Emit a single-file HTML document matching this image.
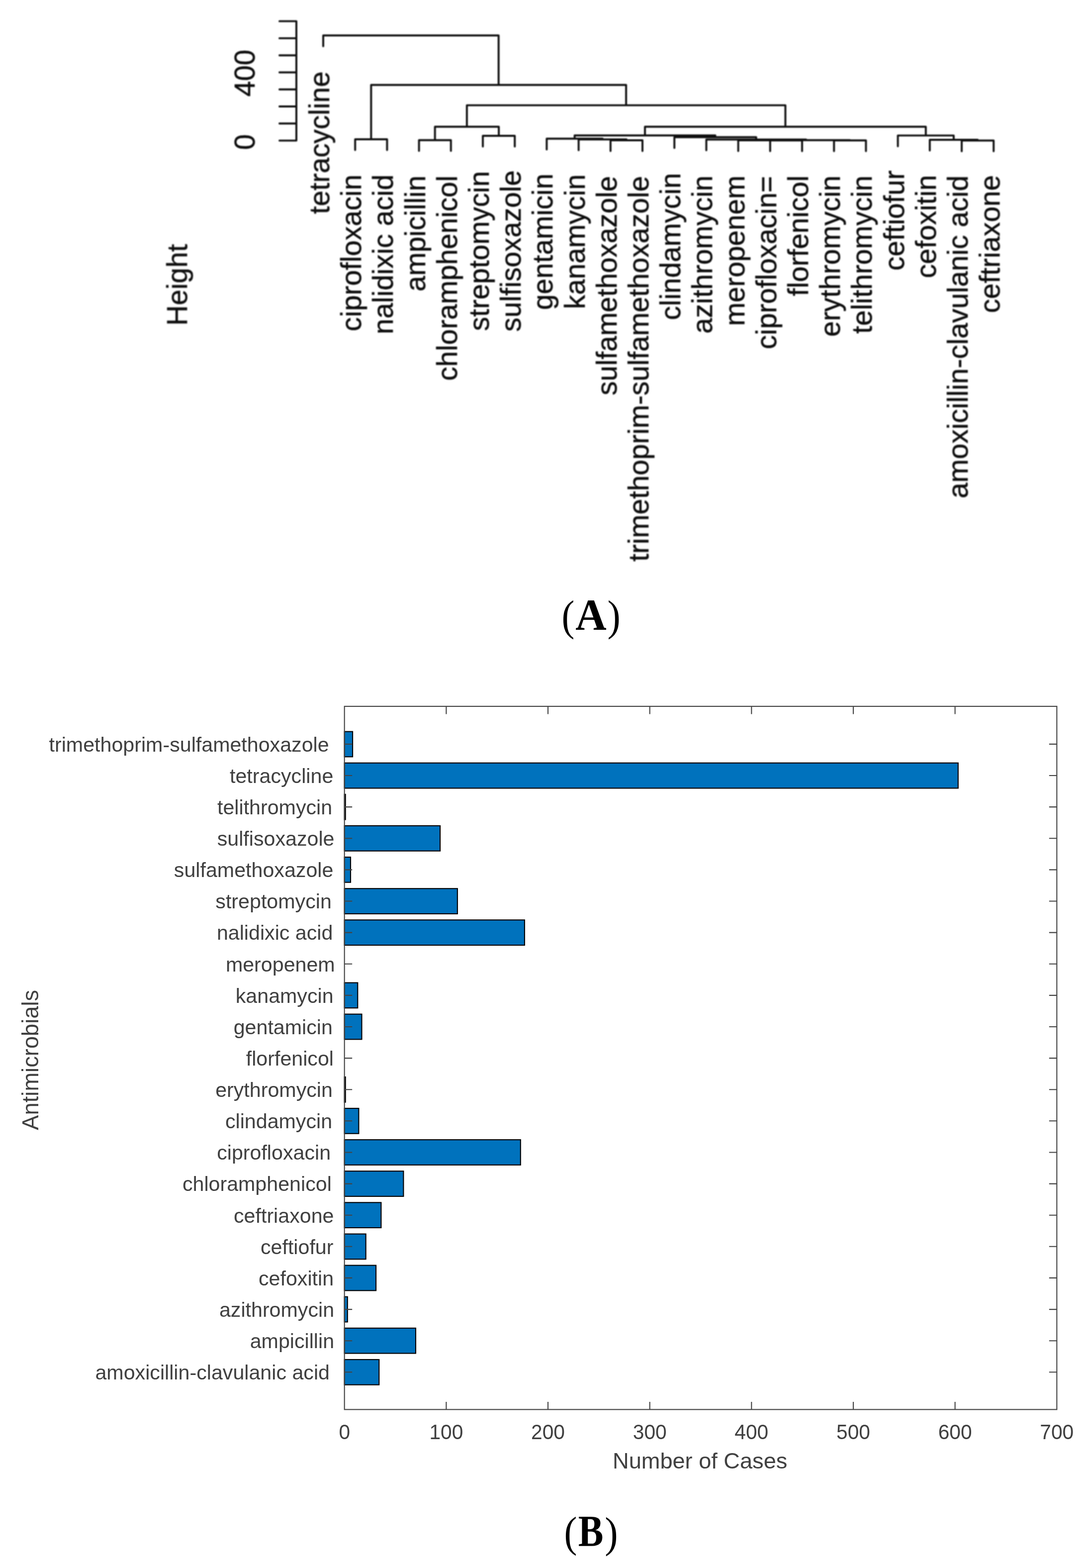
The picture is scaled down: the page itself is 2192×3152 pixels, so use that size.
<!DOCTYPE html>
<html lang="en">
<head>
<meta charset="utf-8">
<title>Figure: antimicrobial resistance dendrogram and bar chart</title>
<style>
html,body{margin:0;padding:0;background:#fff;}
body{width:2192px;height:3152px;overflow:hidden;}
svg{display:block;}
.d text{font-family:"Liberation Sans",Arial,Helvetica,sans-serif;font-size:56.7px;fill:#111111;stroke:#111111;stroke-width:0.55px;stroke-linejoin:round;}
.d line,.d path{stroke:#111111;stroke-width:3.9;fill:none;stroke-linecap:round;stroke-linejoin:round;}
.b text{font-family:"Liberation Sans",Arial,Helvetica,sans-serif;font-size:41.2px;fill:#404040;}
.b .ax{stroke:#444444;stroke-width:2.1;fill:none;}
.b .bar{fill:#0072BD;stroke:#000;stroke-width:2.1;}
.cap text{font-family:"Liberation Serif","Times New Roman",serif;fill:#000;}
</style>
</head>
<body>
<svg width="2192" height="3152" viewBox="0 0 2192 3152">
<rect x="0" y="0" width="2192" height="3152" fill="#ffffff"/>

<defs><filter id="soft" x="-2%" y="-2%" width="104%" height="104%"><feGaussianBlur stdDeviation="1"/></filter></defs>
<g class="d" filter="url(#soft)">
<path d="M596.0 282.6V42.64M596.0 282.60H562.0M596.0 248.32H562.0M596.0 214.04H562.0M596.0 179.76H562.0M596.0 145.48H562.0M596.0 111.20H562.0M596.0 76.92H562.0M596.0 42.64H562.0"/>
<text transform="translate(511.8 285.6) rotate(-90)" text-anchor="middle">0</text>
<text transform="translate(511.8 147.0) rotate(-90)" text-anchor="middle">400</text>
<text transform="translate(376.1 572.6) rotate(-90)" text-anchor="middle">Height</text>
<path d="M714.2 280.0L714.2 301.6M778.4 280.0L778.4 301.6M714.2 280.0L778.4 280.0M842.6 281.7L842.6 303.3M906.8 281.7L906.8 303.3M842.6 281.7L906.8 281.7M971.0 273.0L971.0 294.6M1035.2 273.0L1035.2 294.6M971.0 273.0L1035.2 273.0M874.7 254.7L874.7 281.7M1003.1 254.7L1003.1 273.0M874.7 254.7L1003.1 254.7M1227.8 282.0L1227.8 303.6M1292.0 282.0L1292.0 303.6M1227.8 282.0L1292.0 282.0M1163.6 280.3L1163.6 301.9M1259.9 280.3L1259.9 282.0M1163.6 280.3L1259.9 280.3M1099.4 278.8L1099.4 300.4M1211.8 278.8L1211.8 280.3M1099.4 278.8L1211.8 278.8M1677.2 282.2L1677.2 303.8M1741.4 282.2L1741.4 303.8M1677.2 282.2L1741.4 282.2M1548.8 282.2L1548.8 303.8M1613.0 282.2L1613.0 303.8M1548.8 282.2L1613.0 282.2M1484.6 282.0L1484.6 303.6M1580.9 282.0L1580.9 282.2M1484.6 282.0L1580.9 282.0M1532.8 281.8L1532.8 282.0M1709.3 281.8L1709.3 282.2M1532.8 281.8L1709.3 281.8M1420.4 280.5L1420.4 302.1M1621.0 280.5L1621.0 281.8M1420.4 280.5L1621.0 280.5M1356.2 275.8L1356.2 297.4M1520.7 275.8L1520.7 280.5M1356.2 275.8L1520.7 275.8M1155.6 272.3L1155.6 278.8M1438.5 272.3L1438.5 275.8M1155.6 272.3L1438.5 272.3M1934.0 282.5L1934.0 304.1M1998.2 282.5L1998.2 304.1M1934.0 282.5L1998.2 282.5M1869.8 281.0L1869.8 302.6M1966.1 281.0L1966.1 282.5M1869.8 281.0L1966.1 281.0M1805.6 272.4L1805.6 294.0M1917.9 272.4L1917.9 281.0M1805.6 272.4L1917.9 272.4M1297.0 254.7L1297.0 272.3M1861.8 254.7L1861.8 272.4M1297.0 254.7L1861.8 254.7M938.9 211.6L938.9 254.7M1579.4 211.6L1579.4 254.7M938.9 211.6L1579.4 211.6M746.3 170.7L746.3 280.0M1259.1 170.7L1259.1 211.6M746.3 170.7L1259.1 170.7M650.0 71.3L650.0 92.9M1002.7 71.3L1002.7 170.7M650.0 71.3L1002.7 71.3"/>
<text transform="translate(662.0 143.5) rotate(-90)" text-anchor="end">tetracycline</text>
<text transform="translate(726.2 350.8) rotate(-90)" text-anchor="end">ciprofloxacin</text>
<text transform="translate(790.4 350.6) rotate(-90)" text-anchor="end">nalidixic acid</text>
<text transform="translate(854.6 352.8) rotate(-90)" text-anchor="end">ampicillin</text>
<text transform="translate(918.8 352.8) rotate(-90)" text-anchor="end">chloramphenicol</text>
<text transform="translate(983.0 343.8) rotate(-90)" text-anchor="end">streptomycin</text>
<text transform="translate(1047.2 342.1) rotate(-90)" text-anchor="end">sulfisoxazole</text>
<text transform="translate(1111.4 348.8) rotate(-90)" text-anchor="end">gentamicin</text>
<text transform="translate(1175.6 350.2) rotate(-90)" text-anchor="end">kanamycin</text>
<text transform="translate(1239.8 353.7) rotate(-90)" text-anchor="end">sulfamethoxazole</text>
<text transform="translate(1304.0 353.8) rotate(-90)" text-anchor="end">trimethoprim-sulfamethoxazole</text>
<text transform="translate(1368.2 347.4) rotate(-90)" text-anchor="end">clindamycin</text>
<text transform="translate(1432.4 352.6) rotate(-90)" text-anchor="end">azithromycin</text>
<text transform="translate(1496.6 352.7) rotate(-90)" text-anchor="end">meropenem</text>
<text transform="translate(1560.8 353.8) rotate(-90)" text-anchor="end">ciprofloxacin=</text>
<text transform="translate(1625.0 352.6) rotate(-90)" text-anchor="end">florfenicol</text>
<text transform="translate(1689.2 352.6) rotate(-90)" text-anchor="end">erythromycin</text>
<text transform="translate(1753.4 352.6) rotate(-90)" text-anchor="end">telithromycin</text>
<text transform="translate(1817.6 342.3) rotate(-90)" text-anchor="end">ceftiofur</text>
<text transform="translate(1881.8 351.4) rotate(-90)" text-anchor="end">cefoxitin</text>
<text transform="translate(1946.0 352.8) rotate(-90)" text-anchor="end">amoxicillin-clavulanic acid</text>
<text transform="translate(2010.2 352.0) rotate(-90)" text-anchor="end">ceftriaxone</text>
</g>
<g class="cap">
<text transform="translate(1129.50 1267.34) scale(0.8807 0.9885)" font-size="88">(</text>
<text transform="translate(1157.16 1265.14) scale(0.9816 1.0096)" font-size="88" font-weight="bold">A</text>
<text transform="translate(1221.52 1266.94) scale(0.8965 0.9748)" font-size="88">)</text>
<text transform="translate(1134.57 3109.13) scale(0.8821 0.9748)" font-size="88">(</text>
<text transform="translate(1162.63 3107.25) scale(0.8637 1.0007)" font-size="88" font-weight="bold">B</text>
<text transform="translate(1216.30 3109.70) scale(0.8992 0.9854)" font-size="88">)</text>
</g>
<g class="b">
<rect class="bar" x="692.7" y="1470.6" width="16.4" height="50.7"/>
<rect class="bar" x="692.7" y="1533.7" width="1234.1" height="50.7"/>
<rect class="bar" x="692.7" y="1596.8" width="2.0" height="50.7"/>
<rect class="bar" x="692.7" y="1659.9" width="192.4" height="50.7"/>
<rect class="bar" x="692.7" y="1723.0" width="12.3" height="50.7"/>
<rect class="bar" x="692.7" y="1786.2" width="227.2" height="50.7"/>
<rect class="bar" x="692.7" y="1849.3" width="362.2" height="50.7"/>
<rect class="bar" x="692.7" y="1975.5" width="26.6" height="50.7"/>
<rect class="bar" x="692.7" y="2038.6" width="34.8" height="50.7"/>
<rect class="bar" x="692.7" y="2164.9" width="2.0" height="50.7"/>
<rect class="bar" x="692.7" y="2228.0" width="28.7" height="50.7"/>
<rect class="bar" x="692.7" y="2291.1" width="354.1" height="50.7"/>
<rect class="bar" x="692.7" y="2354.2" width="118.7" height="50.7"/>
<rect class="bar" x="692.7" y="2417.3" width="73.7" height="50.7"/>
<rect class="bar" x="692.7" y="2480.5" width="43.0" height="50.7"/>
<rect class="bar" x="692.7" y="2543.6" width="63.4" height="50.7"/>
<rect class="bar" x="692.7" y="2606.7" width="6.1" height="50.7"/>
<rect class="bar" x="692.7" y="2669.8" width="143.3" height="50.7"/>
<rect class="bar" x="692.7" y="2733.0" width="69.6" height="50.7"/>
<rect class="ax" x="692.7" y="1419.9" width="1432.6" height="1413.5"/>
<path class="ax" d="M897.4 2833.4v-15.5M897.4 1419.9v15.5M1102.0 2833.4v-15.5M1102.0 1419.9v15.5M1306.7 2833.4v-15.5M1306.7 1419.9v15.5M1511.3 2833.4v-15.5M1511.3 1419.9v15.5M1716.0 2833.4v-15.5M1716.0 1419.9v15.5M1920.6 2833.4v-15.5M1920.6 1419.9v15.5M692.7 1495.9h15.5M2125.3 1495.9h-15.5M692.7 1559.0h15.5M2125.3 1559.0h-15.5M692.7 1622.1h15.5M2125.3 1622.1h-15.5M692.7 1685.3h15.5M2125.3 1685.3h-15.5M692.7 1748.4h15.5M2125.3 1748.4h-15.5M692.7 1811.5h15.5M2125.3 1811.5h-15.5M692.7 1874.6h15.5M2125.3 1874.6h-15.5M692.7 1937.7h15.5M2125.3 1937.7h-15.5M692.7 2000.9h15.5M2125.3 2000.9h-15.5M692.7 2064.0h15.5M2125.3 2064.0h-15.5M692.7 2127.1h15.5M2125.3 2127.1h-15.5M692.7 2190.2h15.5M2125.3 2190.2h-15.5M692.7 2253.3h15.5M2125.3 2253.3h-15.5M692.7 2316.5h15.5M2125.3 2316.5h-15.5M692.7 2379.6h15.5M2125.3 2379.6h-15.5M692.7 2442.7h15.5M2125.3 2442.7h-15.5M692.7 2505.8h15.5M2125.3 2505.8h-15.5M692.7 2568.9h15.5M2125.3 2568.9h-15.5M692.7 2632.1h15.5M2125.3 2632.1h-15.5M692.7 2695.2h15.5M2125.3 2695.2h-15.5M692.7 2758.3h15.5M2125.3 2758.3h-15.5"/>
<text transform="translate(692.7 2892.7) scale(1 1.05)" text-anchor="middle" style="font-size:40.7px">0</text>
<text transform="translate(897.4 2892.7) scale(1 1.05)" text-anchor="middle" style="font-size:40.7px">100</text>
<text transform="translate(1102.0 2892.7) scale(1 1.05)" text-anchor="middle" style="font-size:40.7px">200</text>
<text transform="translate(1306.7 2892.7) scale(1 1.05)" text-anchor="middle" style="font-size:40.7px">300</text>
<text transform="translate(1511.3 2892.7) scale(1 1.05)" text-anchor="middle" style="font-size:40.7px">400</text>
<text transform="translate(1716.0 2892.7) scale(1 1.05)" text-anchor="middle" style="font-size:40.7px">500</text>
<text transform="translate(1920.6 2892.7) scale(1 1.05)" text-anchor="middle" style="font-size:40.7px">600</text>
<text transform="translate(2125.3 2892.7) scale(1 1.05)" text-anchor="middle" style="font-size:40.7px">700</text>
<text x="661.7" y="1510.7" text-anchor="end">trimethoprim-sulfamethoxazole</text>
<text x="670.3" y="1573.8" text-anchor="end">tetracycline</text>
<text x="668.2" y="1636.9" text-anchor="end">telithromycin</text>
<text x="672.5" y="1700.1" text-anchor="end">sulfisoxazole</text>
<text x="670.4" y="1763.2" text-anchor="end">sulfamethoxazole</text>
<text x="666.8" y="1826.3" text-anchor="end">streptomycin</text>
<text x="669.4" y="1889.4" text-anchor="end">nalidixic acid</text>
<text x="673.7" y="1952.5" text-anchor="end">meropenem</text>
<text x="670.6" y="2015.7" text-anchor="end">kanamycin</text>
<text x="668.9" y="2078.8" text-anchor="end">gentamicin</text>
<text x="671.0" y="2141.9" text-anchor="end">florfenicol</text>
<text x="668.9" y="2205.0" text-anchor="end">erythromycin</text>
<text x="668.1" y="2268.1" text-anchor="end">clindamycin</text>
<text x="665.1" y="2331.3" text-anchor="end">ciprofloxacin</text>
<text x="666.8" y="2394.4" text-anchor="end">chloramphenicol</text>
<text x="671.5" y="2457.5" text-anchor="end">ceftriaxone</text>
<text x="670.5" y="2520.6" text-anchor="end">ceftiofur</text>
<text x="671.1" y="2583.7" text-anchor="end">cefoxitin</text>
<text x="672.1" y="2646.9" text-anchor="end">azithromycin</text>
<text x="672.1" y="2710.0" text-anchor="end">ampicillin</text>
<text x="663.0" y="2773.1" text-anchor="end">amoxicillin-clavulanic acid</text>
<text x="1407.7" y="2951.8" text-anchor="middle" style="font-size:45.15px">Number of Cases</text>
<text transform="translate(76.8 2130.7) rotate(-90)" text-anchor="middle" style="font-size:45.3px">Antimicrobials</text>
</g>
</svg>
</body>
</html>
